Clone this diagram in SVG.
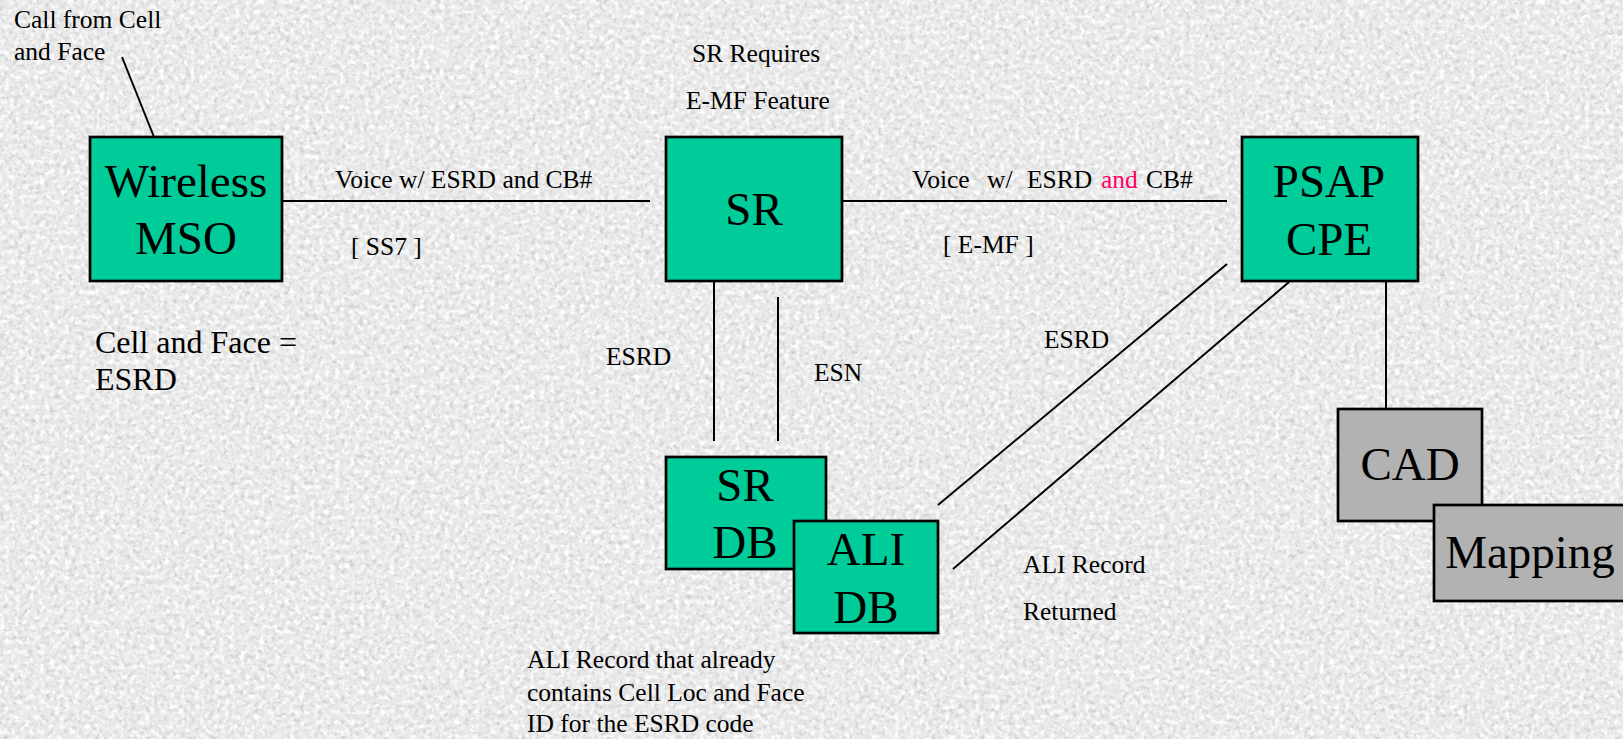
<svg xmlns="http://www.w3.org/2000/svg" width="1623" height="739" viewBox="0 0 1623 739">
  <defs>
    <!-- granite-like surface: pale speckles plus grey flecks -->
    <filter id="flecks" x="0" y="0" width="1623" height="739" filterUnits="userSpaceOnUse">
      <feTurbulence type="fractalNoise" baseFrequency="0.22" numOctaves="3" seed="7" result="noise"/>
      <feColorMatrix in="noise" type="matrix" values="0 0 0 0 0.62  0 0 0 0 0.62  0 0 0 0 0.62  2.8 0 0 0 -1.3"/>
    </filter>
    <filter id="sparkle" x="0" y="0" width="1623" height="739" filterUnits="userSpaceOnUse">
      <feTurbulence type="fractalNoise" baseFrequency="0.2" numOctaves="2" seed="21" result="noise"/>
      <feColorMatrix in="noise" type="matrix" values="0 0 0 0 1  0 0 0 0 1  0 0 0 0 1  0 3 0 0 -1.35"/>
    </filter>
    <style>
      .box { stroke: #000; stroke-width: 2.7; }
      .green { fill: #00CC99; }
      .grey { fill: #B2B2B2; }
      .big { font-family: "Liberation Serif", "Times New Roman", serif; font-size: 47px; fill: #000; text-anchor: middle; }
      .lbl { font-family: "Liberation Serif", "Times New Roman", serif; font-size: 25.5px; fill: #000; }
      .note { font-family: "Liberation Serif", "Times New Roman", serif; font-size: 32px; fill: #000; }
      .wire { stroke: #000; stroke-width: 2; fill: none; }
      .hot { fill: #FF0066; }
    </style>
  </defs>

  <!-- textured backdrop -->
  <rect x="0" y="0" width="1623" height="739" fill="#e9e9e9"/>
  <rect x="0" y="0" width="1623" height="739" fill="#000" filter="url(#flecks)"/>
  <rect x="0" y="0" width="1623" height="739" fill="#000" filter="url(#sparkle)"/>

  <!-- connectors -->
  <g id="connectors" class="wire">
    <line x1="122" y1="57" x2="154" y2="137"/>
    <line x1="282" y1="201" x2="650" y2="201"/>
    <line x1="842" y1="201" x2="1227" y2="201"/>
    <line x1="714" y1="281" x2="714" y2="441"/>
    <line x1="778" y1="297" x2="778" y2="441"/>
    <line x1="938" y1="505" x2="1227" y2="264"/>
    <line x1="953" y1="569" x2="1289" y2="282"/>
    <line x1="1386" y1="281" x2="1386" y2="409"/>
  </g>

  <!-- nodes -->
  <g id="wireless-mso">
    <rect class="box green" x="90" y="137" width="192" height="144"/>
    <text class="big" x="186" y="197">Wireless</text>
    <text class="big" x="186" y="254">MSO</text>
  </g>

  <g id="sr">
    <rect class="box green" x="666" y="137" width="176" height="144"/>
    <text class="big" x="754" y="225">SR</text>
  </g>

  <g id="psap-cpe">
    <rect class="box green" x="1242" y="137" width="176" height="144"/>
    <text class="big" x="1329" y="197">PSAP</text>
    <text class="big" x="1329" y="255">CPE</text>
  </g>

  <g id="sr-db">
    <rect class="box green" x="666" y="457" width="160" height="112"/>
    <text class="big" x="745" y="501">SR</text>
    <text class="big" x="745" y="558">DB</text>
  </g>

  <g id="ali-db">
    <rect class="box green" x="794" y="521" width="144" height="112"/>
    <text class="big" x="866" y="565">ALI</text>
    <text class="big" x="866" y="623">DB</text>
  </g>

  <g id="cad">
    <rect class="box grey" x="1338" y="409" width="144" height="112"/>
    <text class="big" x="1410" y="480">CAD</text>
  </g>

  <g id="mapping">
    <rect class="box grey" x="1434" y="505" width="200" height="96"/>
    <text class="big" x="1530" y="568">Mapping</text>
  </g>

  <!-- labels -->
  <g id="labels">
    <text class="lbl" x="14" y="28">Call from Cell</text>
    <text class="lbl" x="14" y="60">and Face</text>

    <text class="lbl" x="692" y="62">SR Requires</text>
    <text class="lbl" x="686" y="109">E-MF Feature</text>

    <text class="lbl" x="335" y="188">Voice w/ ESRD and CB#</text>
    <text class="lbl" x="351" y="255">[ SS7 ]</text>

    <text class="lbl" y="188"><tspan x="912">Voice</tspan><tspan x="987">w/</tspan><tspan x="1027">ESRD</tspan><tspan x="1101" class="hot">and</tspan><tspan x="1146">CB#</tspan></text>
    <text class="lbl" x="943" y="253">[ E-MF ]</text>

    <text class="note" x="95" y="353">Cell and Face =</text>
    <text class="note" x="95" y="390">ESRD</text>

    <text class="lbl" x="606" y="365">ESRD</text>
    <text class="lbl" x="814" y="381">ESN</text>

    <text class="lbl" x="1044" y="348">ESRD</text>
    <text class="lbl" x="1023" y="573">ALI Record</text>
    <text class="lbl" x="1023" y="620">Returned</text>

    <text class="lbl" x="527" y="668">ALI Record that already</text>
    <text class="lbl" x="527" y="701">contains Cell Loc and Face</text>
    <text class="lbl" x="527" y="732">ID for the ESRD code</text>
  </g>
</svg>
